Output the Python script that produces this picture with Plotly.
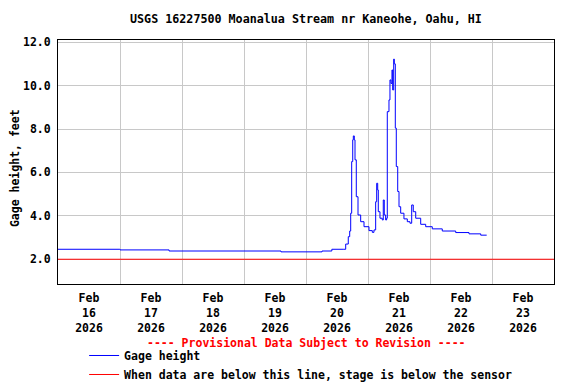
import plotly.graph_objects as go

times = [
    "2026-02-16 00:00", "2026-02-16 23:45", "2026-02-17 00:00", "2026-02-17 19:00",
    "2026-02-19 14:20", "2026-02-20 06:12", "2026-02-20 10:00", "2026-02-20 14:40",
    "2026-02-20 15:22", "2026-02-20 16:22", "2026-02-20 16:55", "2026-02-20 17:18",
    "2026-02-20 17:41", "2026-02-20 18:05", "2026-02-20 18:19", "2026-02-20 18:42",
    "2026-02-20 18:58", "2026-02-20 19:28", "2026-02-20 20:08", "2026-02-20 21:10",
    "2026-02-20 22:27", "2026-02-21 00:23", "2026-02-21 01:40", "2026-02-21 02:19",
    "2026-02-21 02:58", "2026-02-21 03:22", "2026-02-21 03:45", "2026-02-21 03:59",
    "2026-02-21 04:38", "2026-02-21 05:31", "2026-02-21 05:55", "2026-02-21 06:18",
    "2026-02-21 06:50", "2026-02-21 07:13", "2026-02-21 07:28", "2026-02-21 08:07",
    "2026-02-21 08:30", "2026-02-21 08:53", "2026-02-21 09:17", "2026-02-21 09:33",
    "2026-02-21 09:57", "2026-02-21 10:11", "2026-02-21 10:34", "2026-02-21 10:57",
    "2026-02-21 11:30", "2026-02-21 12:00", "2026-02-21 12:39", "2026-02-21 13:55",
    "2026-02-21 15:13", "2026-02-21 16:15", "2026-02-21 16:55", "2026-02-21 17:31",
    "2026-02-21 18:28", "2026-02-21 20:24", "2026-02-21 22:20", "2026-02-22 00:53",
    "2026-02-22 04:45", "2026-02-22 09:57", "2026-02-22 15:06", "2026-02-22 19:38",
    "2026-02-22 21:57",
]
gage_height = [
    2.46, 2.46, 2.43, 2.38,
    2.34, 2.38, 2.46, 2.46,
    2.70, 3.04, 3.30, 4.12,
    6.50, 7.50, 7.68, 7.50,
    6.58, 4.88, 4.04, 3.73,
    3.50, 3.32, 3.24, 3.35,
    4.65, 5.50, 5.19, 4.19,
    3.89, 3.81, 4.73, 4.04,
    3.81, 3.89, 8.80, 9.34,
    10.26, 10.10, 10.72, 9.80,
    11.22, 11.00, 8.04, 6.27,
    5.12, 4.42, 4.12, 3.86,
    3.73, 3.66, 4.50, 4.19,
    3.89, 3.61, 3.50, 3.40,
    3.30, 3.23, 3.17, 3.11,
    3.11,
]
sensor_times = ["2026-02-16 00:00", "2026-02-24 00:00"]
sensor_level = [2.0, 2.0]

title_text = "USGS 16227500 Moanalua Stream nr Kaneohe, Oahu, HI"
provisional_text = "---- Provisional Data Subject to Revision ----"
y_title = "Gage height, feet"
FONT = "DejaVu Sans Mono"

fig = go.Figure()
fig.add_trace(go.Scatter(
    x=sensor_times, y=sensor_level, mode="lines",
    line=dict(color="#ff0000", width=1),
    name="When data are below this line, stage is below the sensor",
))
fig.add_trace(go.Scatter(
    x=times, y=gage_height, mode="lines", line_shape="hv",
    line=dict(color="#0000ff", width=1), name="Gage height",
))

fig.update_layout(
    width=568, height=376,
    margin=dict(l=50, r=22, t=32, b=100, autoexpand=False),
    paper_bgcolor="white", plot_bgcolor="white",
    font=dict(family=FONT, size=11.5, color="black", weight="bold"),
    title=dict(text=title_text, x=0.5246, xanchor="center", y=0.9707, yanchor="middle",
               font=dict(family=FONT, size=11.7, color="black", weight="bold")),
    showlegend=True,
    legend=dict(orientation="v", xref="container", yref="container",
                x=0.134, xanchor="left", y=0.1144, yanchor="top",
                traceorder="reversed", bgcolor="rgba(0,0,0,0)",
                font=dict(family=FONT, size=11.5, color="black", weight="bold"),
                itemwidth=30),
    annotations=[
        dict(text=provisional_text, xref="paper", yref="paper",
             x=0.5, y=-0.242, xanchor="center", yanchor="middle",
             showarrow=False,
             font=dict(family=FONT, size=11.5, color="#ff0000", weight="bold")),
        dict(text=y_title, xref="paper", yref="paper",
             x=-0.0867, y=0.475, xanchor="center", yanchor="middle",
             textangle=-90, showarrow=False,
             font=dict(family=FONT, size=11.5, color="black", weight="bold")),
    ],
)
fig.update_xaxes(
    type="date", range=["2026-02-16 00:00", "2026-02-24 00:00"],
    dtick=86400000, tick0="2026-02-16", ticklabelmode="period",
    tickformat="%b<br>%d<br>%Y", ticks="",
    showgrid=True, gridcolor="#c8c8c8", gridwidth=1,
    showline=True, linecolor="black", linewidth=1, mirror=True,
    zeroline=False, ticklabelstandoff=3,
    tickfont=dict(family=FONT, size=11.5, color="black", weight="bold"),
)
fig.update_yaxes(
    range=[0.86, 12.1], tick0=2, dtick=2, tickformat=".1f",
    ticks="outside", ticklen=4, tickcolor="rgba(0,0,0,0)",
    showgrid=True, gridcolor="#c8c8c8", gridwidth=1,
    showline=True, linecolor="black", linewidth=1, mirror=True,
    zeroline=False,
    tickfont=dict(family=FONT, size=11.5, color="black", weight="bold"),
)

fig.write_html("out.html")
